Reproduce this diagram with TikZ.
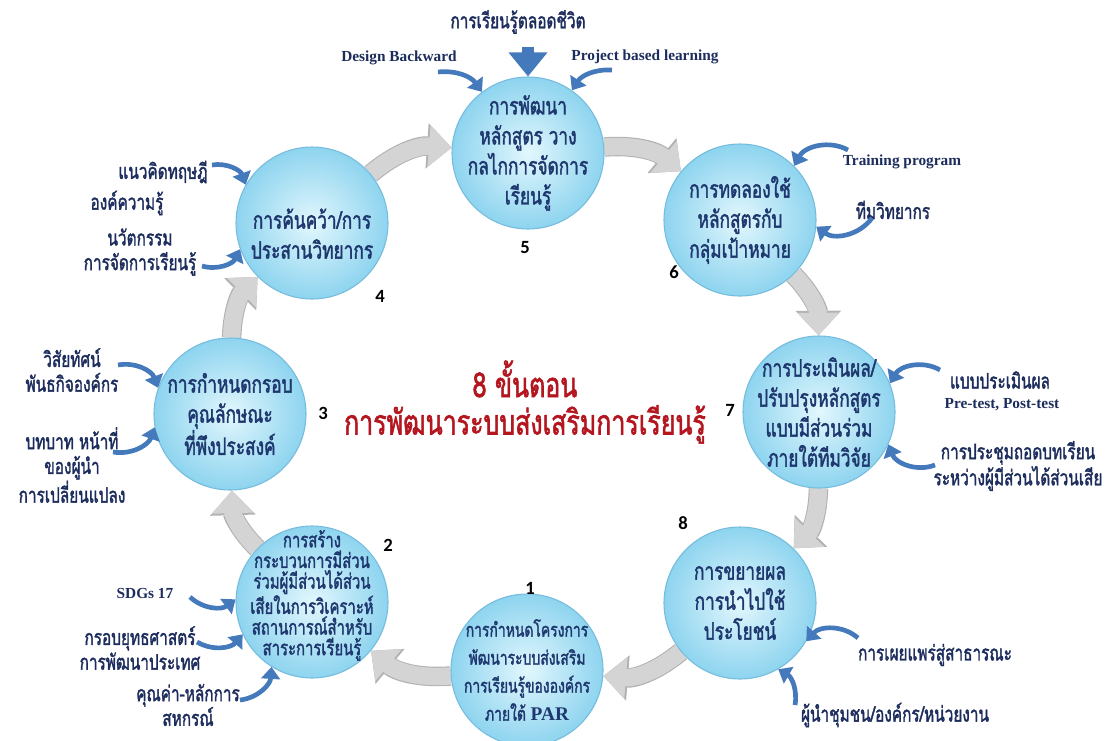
\documentclass[tikz,border=0pt]{standalone}
\usepackage{fontspec}
\setmainfont{Loma}[Script=Thai, FakeStretch=0.72, AutoFakeBold=1.6]
\newfontfamily\latinfont{Liberation Serif}
\newfontfamily\digitfont{Carlito}
\usepackage{xcolor}
\usepackage{tikz}
\usetikzlibrary{arrows.meta, positioning, calc, backgrounds}

\definecolor{stepnavy}{RGB}{30,55,110}
\definecolor{labelnavy}{RGB}{28,44,92}
\definecolor{titlered}{RGB}{180,22,32}
\definecolor{ballin}{RGB}{226,247,253}
\definecolor{ballout}{RGB}{142,212,239}
\definecolor{ballrim}{RGB}{118,188,222}
\definecolor{ringgrey}{RGB}{212,212,212}
\definecolor{ringedge}{RGB}{178,178,178}
\definecolor{swooshblue}{RGB}{68,122,188}

\begin{document}
\begin{tikzpicture}[
    x=0.75pt, y=0.75pt,
    ball/.style={circle, minimum size=114pt, inner sep=0pt, draw=ballrim, line width=0.8pt, inner color=ballin, outer color=ballout},
    balltext/.style={text=stepnavy, align=center, font=\fontsize{18}{22.5}\selectfont\bfseries},
    stepno/.style={font=\digitfont\fontsize{14}{16}\selectfont\bfseries},
    thailabel/.style={text=labelnavy, align=center, font=\fontsize{16}{18.5}\selectfont\bfseries},
    englabel/.style={text=labelnavy, align=center, font=\latinfont\fontsize{11.5}{14}\selectfont\bfseries},
    titletext/.style={text=titlered, align=center, font=\fontsize{26}{28}\selectfont\bfseries},
    ring/.style={draw=ringgrey, line width=13pt, -{Triangle[length=17pt, width=30pt]},
        preaction={draw=ringedge, line width=14.6pt, -{Triangle[length=18.5pt, width=33pt]}}},
    swoosh/.style={draw=swooshblue, line width=3.5pt, -{Triangle[length=9pt, width=14pt]}},
    dropdown/.style={draw=swooshblue, line width=9pt, -{Triangle[length=18pt, width=28pt]}}
]
    \useasboundingbox (0,0) rectangle (1111,-740);

    % Eight steps round the ring
    \node[ball] (c1) at (527,-670) {};
    \node[ball] (c2) at (312,-602) {};
    \node[ball] (c3) at (230,-414) {};
    \node[ball] (c4) at (312,-223) {};
    \node[ball] (c5) at (528,-153) {};
    \node[ball] (c6) at (740,-220) {};
    \node[ball] (c7) at (819,-412) {};
    \node[ball] (c8) at (740,-603) {};

    % Grey ring arrows (clockwise)
    \begin{scope}[on background layer]
    \path[ring] (c1) to[bend left=22] (c2);
    \path[ring] (c2) to[bend left=22] (c3);
    \path[ring] (c3) to[bend left=22] (c4);
    \path[ring] (c4) to[bend left=22] (c5);
    \path[ring] (c5) to[bend left=22] (c6);
    \path[ring] (c6) to[bend left=22] (c7);
    \path[ring] (c7) to[bend left=22] (c8);
    \path[ring] (c8) to[bend left=22] (c1);
    \end{scope}

    % Step texts
    \node[balltext, font=\fontsize{14.5}{21}\selectfont\bfseries] (t1) at (c1) {การกำหนดโครงการ\\พัฒนาระบบส่งเสริม\\การเรียนรู้ขององค์กร\\ภายใต้ {\latinfont PAR}};
    \node[balltext, font=\fontsize{15.5}{15.5}\selectfont\bfseries, yshift=5] (t2) at (c2) {การสร้าง\\กระบวนการมีส่วน\\ร่วมผู้มีส่วนได้ส่วน\\เสียในการวิเคราะห์\\สถานการณ์สำหรับ\\สาระการเรียนรู้};
    \node[balltext] (t3) at (c3) {การกำหนดกรอบ\\คุณลักษณะ\\ที่พึงประสงค์};
    \node[balltext, yshift=-8] (t4) at (c4) {การค้นคว้า/การ\\ประสานวิทยากร};
    \node[balltext] (t5) at (c5) {การพัฒนา\\หลักสูตร วาง\\กลไกการจัดการ\\เรียนรู้};
    \node[balltext] (t6) at (c6) {การทดลองใช้\\หลักสูตรกับ\\กลุ่มเป้าหมาย};
    \node[balltext] (t7) at (c7) {การประเมินผล/\\ปรับปรุงหลักสูตร\\แบบมีส่วนร่วม\\ภายใต้ทีมวิจัย};
    \node[balltext] (t8) at (c8) {การขยายผล\\การนำไปใช้\\ประโยชน์};

    % Step numbers
    \node[stepno] (n1) at (530,-588) {1};
    \node[stepno] (n2) at (388,-545) {2};
    \node[stepno] (n3) at (323,-413) {3};
    \node[stepno] (n4) at (380,-296) {4};
    \node[stepno] (n5) at (525,-248) {5};
    \node[stepno] (n6) at (674,-272) {6};
    \node[stepno] (n7) at (730,-410) {7};
    \node[stepno] (n8) at (683,-523) {8};

    % Centre title
    \node[titletext] (title) at (525,-402) {8 ขั้นตอน\\การพัฒนาระบบส่งเสริมการเรียนรู้};

    % Inputs of step 5
    \node[thailabel] (lifelong) at (518,-22) {การเรียนรู้ตลอดชีวิต};
    \node[englabel] (backward) at (399,-58) {Design Backward};
    \node[englabel] (project) at (645,-57) {Project based learning};
    \coordinate (backward0) at (438,-72);
    \coordinate (project0) at (612,-70);
    \draw[dropdown, shorten <=6pt] (lifelong.south -| c5.north) -- (c5.north);
    \draw[swoosh] (backward0) to[bend left=30] (c5.127);
    \draw[swoosh] (project0) to[bend right=30] (c5.55);

    % Inputs of step 6
    \node[englabel] (training) at (902,-162) {Training program};
    \node[thailabel] (trainers) at (893,-210) {ทีมวิทยากร};
    \coordinate (training0) at (848,-150);
    \coordinate (trainers0) at (872,-218);
    \draw[swoosh] (training0) to[bend right=45] (c6.45);
    \draw[swoosh] (trainers0) to[bend left=45] (c6.355);

    % Inputs of step 7
    \node[thailabel] (evalform) at (1000,-380) {แบบประเมินผล};
    \node[englabel] (prepost) at (1002,-405) {Pre-test, Post-test};
    \node[thailabel] (lessons) at (1018,-466) {การประชุมถอดบทเรียน\\ระหว่างผู้มีส่วนได้ส่วนเสีย};
    \coordinate (evalform0) at (940,-370);
    \coordinate (lessons0) at (935,-465);
    \draw[swoosh] (evalform0) to[bend right=45] (c7.22);
    \draw[swoosh] (lessons0) to[bend left=45] (c7.335);

    % Inputs of step 8
    \node[thailabel] (publish) at (935,-655) {การเผยแพร่สู่สาธารณะ};
    \node[thailabel] (leaders) at (895,-715) {ผู้นำชุมชน/องค์กร/หน่วยงาน};
    \coordinate (publish0) at (858,-638);
    \coordinate (leaders0) at (795,-705);
    \draw[swoosh] (publish0) to[bend right=45] (c8.330);
    \draw[swoosh] (leaders0) to[bend right=35] (c8.300);

    % Inputs of step 2
    \node[englabel] (sdgs) at (145,-593) {SDGs 17};
    \node[thailabel] (strategy) at (140,-648) {กรอบยุทธศาสตร์\\การพัฒนาประเทศ};
    \node[thailabel] (coop) at (188,-705) {คุณค่า-หลักการ\\สหกรณ์};
    \coordinate (sdgs0) at (190,-597);
    \coordinate (strategy0) at (197,-642);
    \coordinate (coop0) at (240,-700);
    \draw[swoosh] (sdgs0) to[bend right=40] (c2.178);
    \draw[swoosh] (strategy0) to[bend right=40] (c2.205);
    \draw[swoosh] (coop0) to[bend right=40] (c2.238);

    % Inputs of step 3
    \node[thailabel] (vision) at (72,-370) {วิสัยทัศน์\\พันธกิจองค์กร};
    \node[thailabel] (roles) at (72,-465) {บทบาท หน้าที่\\ของผู้นำ\\การเปลี่ยนแปลง};
    \coordinate (vision0) at (118,-365);
    \coordinate (roles0) at (113,-452);
    \draw[swoosh] (vision0) to[bend left=40] (c3.160);
    \draw[swoosh] (roles0) to[bend right=40] (c3.190);

    % Inputs of step 4
    \node[thailabel] (theory) at (163,-172) {แนวคิดทฤษฎี};
    \node[thailabel] (knowledge) at (127,-203) {องค์ความรู้};
    \node[thailabel] (innovation) at (140,-252) {นวัตกรรม\\การจัดการเรียนรู้};
    \coordinate (theory0) at (212,-165);
    \coordinate (innovation0) at (202,-266);
    \draw[swoosh] (theory0) to[bend left=40] (c4.150);
    \draw[swoosh] (innovation0) to[bend right=40] (c4.200);

\end{tikzpicture}
\end{document}
